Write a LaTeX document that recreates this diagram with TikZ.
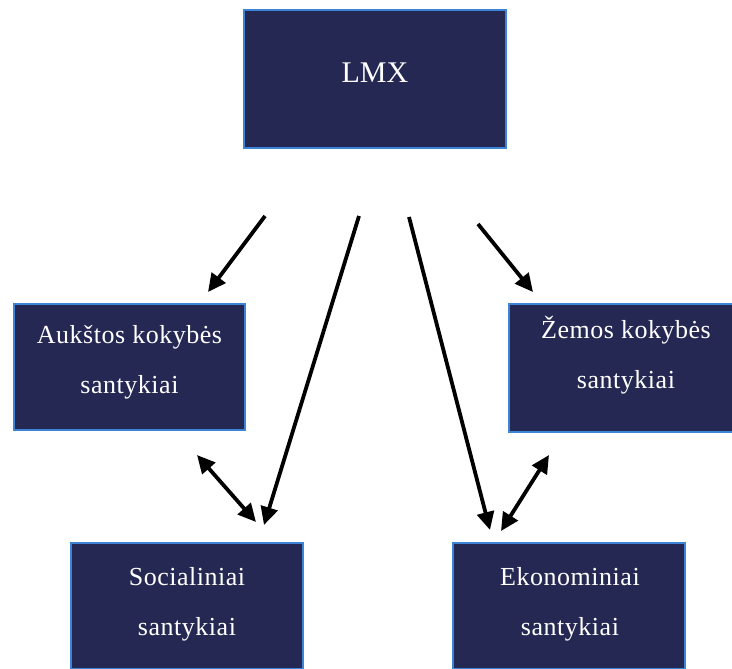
\documentclass[tikz,border=0pt]{standalone}
\usepackage{fontspec}
\setmainfont{Liberation Serif}
\newfontfamily\boxfont[LetterSpace=2]{Liberation Serif}
\usetikzlibrary{arrows.meta}

\definecolor{boxfill}{RGB}{38,40,84}
\definecolor{boxedge}{RGB}{62,132,214}

\tikzset{
  box/.style={draw=boxedge, line width=2pt, fill=boxfill, rectangle,
    inner sep=0pt},
  lbl/.style={text=white, align=center, inner sep=0pt,
    font=\boxfont\fontsize{26}{50}\selectfont},
  title/.style={text=white, inner sep=0pt,
    font=\fontsize{30}{36}\selectfont},
  link/.style={line width=3.8pt, -{Triangle[length=18pt,width=17pt]}},
  both/.style={line width=3.8pt,
    {Triangle[length=18pt,width=17pt]}-{Triangle[length=18pt,width=17pt]}}
}

\begin{document}
\begin{tikzpicture}[x=1pt,y=-1pt]
  \useasboundingbox (0,0) rectangle (732,669);

  % boxes
  \node[box, minimum width=262pt, minimum height=138pt] (lmx) at (375,79) {};
  \node[box, minimum width=231pt, minimum height=126pt] (high) at (129.5,367) {};
  \node[box, minimum width=231pt, minimum height=128pt] (low) at (624.5,368) {};
  \node[box, minimum width=232pt, minimum height=126pt] (soc) at (187,606) {};
  \node[box, minimum width=232pt, minimum height=126pt] (eco) at (569,606) {};

  % labels
  \node[title] (lmxt) at (375,73) {LMX};
  \node[lbl] (hight) at (129.5,362) {Aukštos kokybės\\santykiai};
  \node[lbl] (lowt) at (626,355) {Žemos kokybės\\santykiai};
  \node[lbl] (soct) at (187,604) {Socialiniai\\santykiai};
  \node[lbl] (ecot) at (570,604) {Ekonominiai\\santykiai};

  % connector end points
  \coordinate (a1) at (265,216);  \coordinate (a1e) at (208,292);
  \coordinate (a2) at (359,216);  \coordinate (a2e) at (264,525);
  \coordinate (a3) at (409,217);  \coordinate (a3e) at (490,530);
  \coordinate (a4) at (478,224);  \coordinate (a4e) at (533,292);
  \coordinate (b1) at (197,455);  \coordinate (b1e) at (256,522);
  \coordinate (b2) at (549,455);  \coordinate (b2e) at (501,531);

  % connectors
  \draw[link] (a1) -- (a1e);
  \draw[link] (a2) -- (a2e);
  \draw[link] (a3) -- (a3e);
  \draw[link] (a4) -- (a4e);
  \draw[both] (b1) -- (b1e);
  \draw[both] (b2) -- (b2e);
\end{tikzpicture}
\end{document}
